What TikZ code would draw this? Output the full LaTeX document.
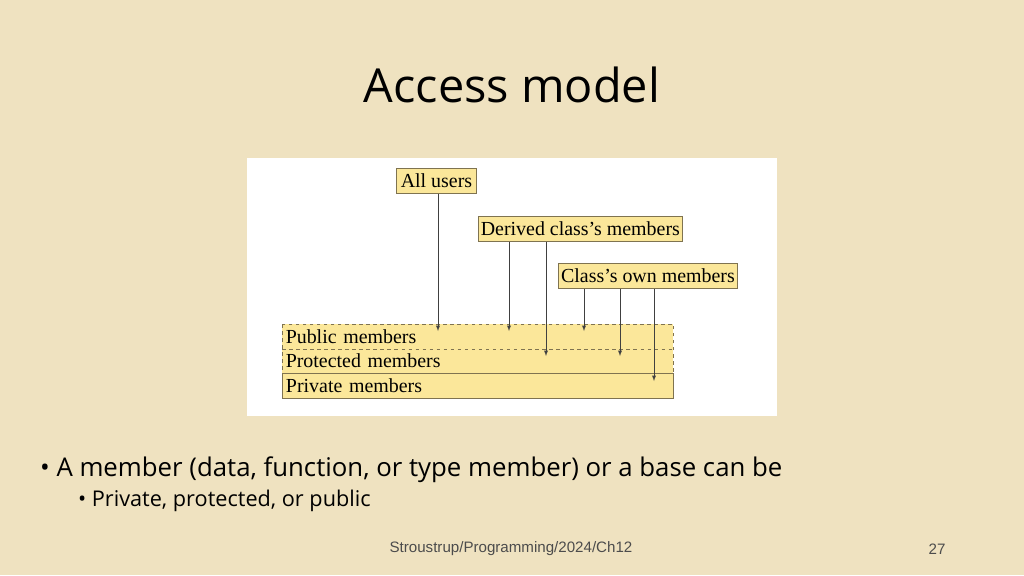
\documentclass[tikz,border=0pt]{standalone}
\usepackage{fontspec}
\setmainfont{Liberation Serif}
\newfontfamily\slidefont{Open Sans}
\newfontfamily\footfont{Liberation Sans}
\usetikzlibrary{positioning}
\definecolor{paper}{HTML}{EFE2C0}
\definecolor{boxfill}{HTML}{FBE79A}
\definecolor{boxline}{HTML}{7F7350}
\tikzset{
  label box/.style={draw=boxline, fill=boxfill, line width=.8pt, inner xsep=2pt, inner ysep=0pt, minimum height=25*0.03cm, font=\fontsize{17}{19}\selectfont},
  band/.style={fill=boxfill, minimum width=391*0.03cm, minimum height=24.5*0.03cm, inner sep=3pt, text width=384*0.03cm, align=left, font=\fontsize{17}{19}\selectfont},
  acc/.style={->, >=latex, draw=black!75, line width=.6pt}
}
\begin{document}
\begin{tikzpicture}[x=0.03cm, y=-0.03cm]
\fill[paper] (0,0) rectangle (1024,575);
\useasboundingbox (0,0) rectangle (1024,575);
\node[font=\slidefont\fontsize{40}{44}\selectfont] (title) at (512,85) {Access model};
\fill[white] (247,158) rectangle (777,416);

% who accesses
\node[label box, anchor=north west, minimum width=80*0.03cm] (users) at (396,168) {All users};
\node[label box, anchor=north west, minimum width=201*0.03cm] (derived) at (478,216) {Derived class's members};
\node[label box, anchor=north west, minimum width=179*0.03cm] (own) at (558,263) {Class's own members};

% member bands
\node[band, anchor=north west] (public) at (282,324) {Public members};
\node[band, anchor=north west] (protected) at (282,348.5) {Protected members};
\node[band, anchor=north west, draw=boxline, line width=.8pt] (private) at (282,373) {Private members};
\draw[boxline, line width=.8pt, dashed] (public.north west) rectangle (protected.south east);
\draw[boxline, line width=.8pt, dashed] (public.south west) -- (public.south east);

\coordinate (u1) at (438,331);
\coordinate (d1) at (509,331);
\coordinate (d2) at (546,356);
\coordinate (o1) at (584,331);
\coordinate (o2) at (620,356);
\coordinate (o3) at (654,381);
\draw[acc] (users.south -| u1) -- (u1);
\draw[acc] (derived.south -| d1) -- (d1);
\draw[acc] (derived.south -| d2) -- (d2);
\draw[acc] (own.south -| o1) -- (o1);
\draw[acc] (own.south -| o2) -- (o2);
\draw[acc] (own.south -| o3) -- (o3);

\node[anchor=west, font=\slidefont\fontsize{22}{26}\selectfont] (b1) at (36,470) {\textbullet\ A member (data, function, or type member) or a base can be};
\node[anchor=west, font=\slidefont\fontsize{18.5}{22}\selectfont] (b2) at (74,501) {\textbullet\ Private, protected, or public};
\node[font=\footfont\fontsize{12.9}{15}\selectfont, text=black!70] (foot) at (511,549) {Stroustrup/Programming/2024/Ch12};
\node[font=\footfont\fontsize{12.9}{15}\selectfont, text=black!70] (page) at (937,549) {27};
\end{tikzpicture}
\end{document}
